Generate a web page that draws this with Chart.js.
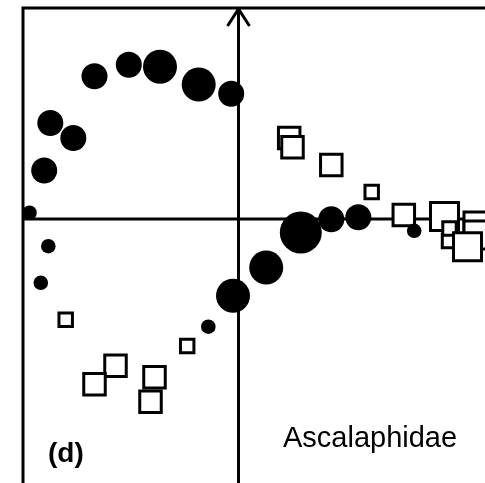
<!DOCTYPE html>
<html>
<head>
<meta charset="utf-8">
<script src="https://cdn.jsdelivr.net/npm/chart.js@4.4.1/dist/chart.umd.min.js"></script>
<style>
  html, body { margin: 0; padding: 0; background: #fff; }
  canvas { display: block; }
</style>
</head>
<body>
<canvas id="ord" width="485" height="483"></canvas>
<script>
// ordination scores, axis 1 (x) / axis 2 (y)
// filled circles: size = abundance class 1..4
const circleX = [-1.44, -1.097, -0.785, -0.398, -0.073, -1.882, -1.652, -1.943, -2.09, -1.902, -1.977, -0.055, -0.302, 0.277, 0.623, 0.928, 1.198, 1.757];
const circleY = [1.427, 1.543, 1.523, 1.345, 1.252, 0.96, 0.81, 0.485, 0.063, -0.272, -0.638, -0.768, -1.077, -0.485, -0.135, -0.002, 0.017, -0.118];
const circleSize = [2, 2, 3, 3, 2, 2, 2, 2, 1, 1, 1, 3, 1, 3, 4, 2, 2, 1];

// open squares: size = abundance class 1..3 (drawing order = array order)
const squareX = [-1.728, -1.23, -1.44, -0.84, -0.88, -0.513, 0.507, 0.54, 0.928, 1.332, 1.653, 2.395, 2.395, 2.06, 2.105, 2.11, 2.29];
const squareY = [-1.007, -1.468, -1.652, -1.582, -1.827, -1.27, 0.81, 0.718, 0.54, 0.27, 0.04, -0.07, -0.16, 0.025, -0.22, -0.095, -0.277];
const squareSize = [1, 2, 2, 2, 2, 1, 2, 2, 2, 1, 2, 3, 3, 3, 1, 1, 3];

const panelLabel = '(d)';
const taxonLabel = 'Ascalaphidae';

// marker radius per class (px)
const CIRCLE_R = { 1: 7.3, 2: 13, 3: 17, 4: 21 };
const SQUARE_R = { 1: 9.5, 2: 15.2, 3: 19.8 };

const pts = (xs, ys) => xs.map((v, i) => ({ x: v, y: ys[i] }));

// frame, axes through the origin, arrow on axis 2, labels
const ordAxes = {
  id: 'ordAxes',
  beforeDatasetsDraw(chart) {
    const { ctx, chartArea: a, scales: { x, y } } = chart;
    const x0 = x.getPixelForValue(0), y0 = y.getPixelForValue(0);
    ctx.save();
    ctx.strokeStyle = '#000';
    ctx.lineWidth = 3;
    ctx.beginPath();
    ctx.moveTo(a.left, a.bottom); ctx.lineTo(a.left, a.top); ctx.lineTo(a.right, a.top);
    ctx.moveTo(a.left, y0); ctx.lineTo(a.right, y0);
    ctx.moveTo(x0, a.top); ctx.lineTo(x0, a.bottom);
    ctx.moveTo(x0 - 11, a.top + 18); ctx.lineTo(x0, a.top + 1); ctx.lineTo(x0 + 11, a.top + 18);
    ctx.stroke();
    ctx.restore();
  },
  afterDraw(chart) {
    const { ctx } = chart;
    ctx.save();
    ctx.fillStyle = '#000';
    ctx.textBaseline = 'alphabetic';
    ctx.textAlign = 'left';
    ctx.font = 'bold 28px "Liberation Sans", Arial, sans-serif';
    ctx.fillText(panelLabel, 48, 462);
    ctx.font = '29px "Liberation Sans", Arial, sans-serif';
    ctx.fillText(taxonLabel, 283, 447);
    ctx.restore();
  }
};

new Chart(document.getElementById('ord'), {
  type: 'scatter',
  data: {
    datasets: [
      {
        label: 'circles',
        data: pts(circleX, circleY),
        pointStyle: 'circle',
        pointRadius: circleSize.map(s => CIRCLE_R[s]),
        backgroundColor: '#000',
        borderWidth: 0,
        order: 0,
      },
      {
        label: 'squares',
        data: pts(squareX, squareY),
        pointStyle: 'rect',
        pointRadius: squareSize.map(s => SQUARE_R[s]),
        backgroundColor: '#fff',
        borderColor: '#000',
        borderWidth: 3,
        order: 1,
      },
    ],
  },
  options: {
    responsive: false,
    animation: false,
    devicePixelRatio: 1,
    events: [],
    layout: { autoPadding: false, padding: { left: 23, top: 8, right: 0, bottom: 0 } },
    plugins: { legend: { display: false }, tooltip: { enabled: false } },
    scales: {
      x: { type: 'linear', display: false, min: -2.155, max: 2.465 },
      y: { type: 'linear', display: false, min: -2.64, max: 2.11 },
    },
  },
  plugins: [ordAxes],
});
</script>
</body>
</html>
